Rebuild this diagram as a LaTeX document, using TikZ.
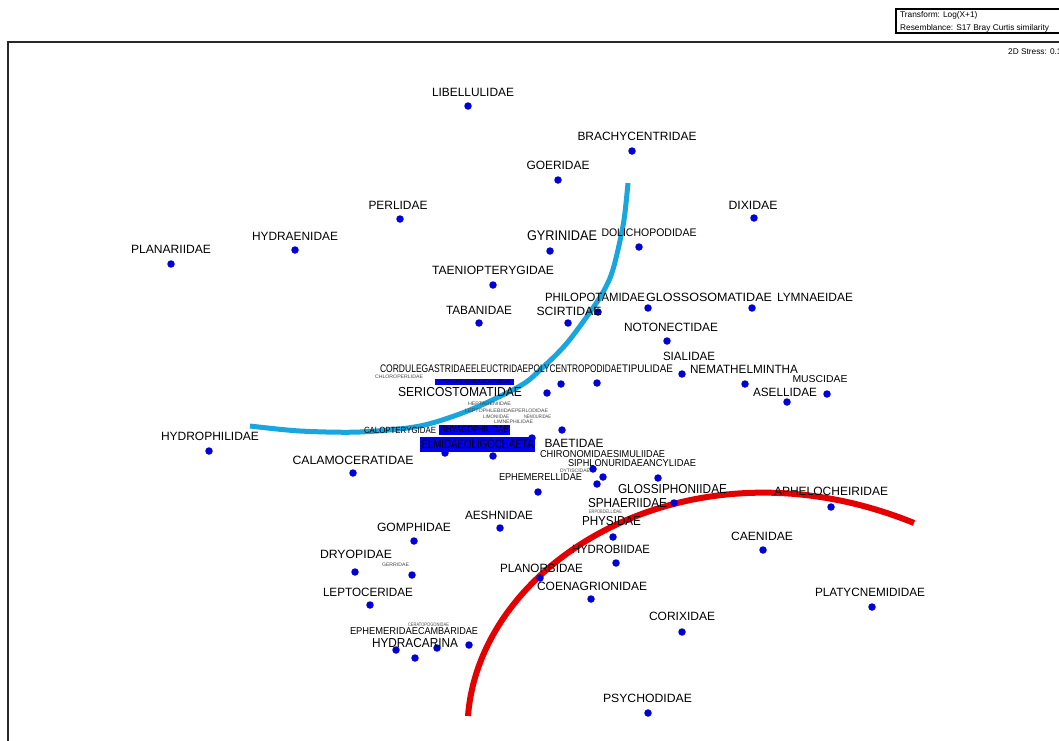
\documentclass[tikz,border=0pt]{standalone}
\usepackage{fontspec}
\setmainfont{Liberation Sans}
\usepackage{graphicx}
\newcommand{\fitw}[2]{\resizebox{#1pt}{\height}{#2}}
\definecolor{dotblue}{RGB}{0,0,215}
\definecolor{arcblue}{RGB}{25,165,222}
\definecolor{arcred}{RGB}{228,0,0}
\definecolor{hlblue}{RGB}{0,0,235}
\definecolor{hltext}{RGB}{0,0,0}
\definecolor{framegray}{RGB}{40,40,40}
\definecolor{tinygray}{RGB}{70,70,70}
\tikzset{
  dot/.style={circle, fill=dotblue, inner sep=0pt, minimum size=7.5pt},
  lab/.style={inner sep=0pt, text=black, font=\fontsize{12}{12}\selectfont},
  labbig/.style={lab, font=\fontsize{13}{13}\selectfont},
  labgy/.style={lab, font=\fontsize{14}{14}\selectfont},
  labmid/.style={lab, font=\fontsize{11}{11}\selectfont},
  labsm/.style={lab, font=\fontsize{10}{10}\selectfont},
  labtiny/.style={lab, text=tinygray, font=\fontsize{5}{5}\selectfont},
  hlbox/.style={fill=hlblue, text=hltext, inner sep=0pt},
  arcline/.style={line width=5pt},
  legtext/.style={inner sep=0pt, anchor=west, font=\fontsize{8.3}{8.3}\selectfont},
}
\begin{document}
\begin{tikzpicture}[x=1pt,y=-1pt]
\useasboundingbox (0,0) rectangle (1059,740);
\fill[white] (0,0) rectangle (1059,740);
% frame
\draw[framegray, line width=2pt] (8,745) -- (8,42) -- (1065,42);
% legend
\draw[black, line width=1.3pt] (896,9) rectangle (1075,33);
\node[legtext] (leg1) at (900,15.5) {Transform: Log(X+1)};
\node[legtext] (leg2) at (900,28) {Resemblance: S17 Bray Curtis similarity};
\node[legtext] (stress) at (1008,52) {2D Stress: 0.16};
% arcs
\draw[arcblue, arcline] plot[smooth] coordinates {(250,426) (300,431) (360,432) (420,426) (470,410) (520,386) (540,370) (567,343) (597,302) (610,278) (617,254) (624,220) (628,183)};
\draw[arcred, line width=6pt] (468,716) .. controls (480,560) and (690,432) .. (914,523);
% dots
\foreach \x/\y/\n in {468/106/a1, 632/151/a2, 558/180/a3, 400/219/a4, 754/218/a5, 295/250/a6, 171/264/a7, 550/251/a8, 639/247/a9, 493/285/a10, 479/323/a11, 568/323/a12, 598/312/a13, 648/308/a14, 752/308/a15, 667/341/a16, 682/374/a17, 745/384/a18, 827/394/a19, 787/402/a20, 561/384/a21, 597/383/a22, 547/393/a23, 562/430/a24, 532/438/a25, 445/453/a26, 493/456/a27, 209/451/a28, 353/473/a29, 593/469/a30, 603/477/a31, 597/484/a32, 658/478/a33, 538/492/a34, 674/503/a35, 613/537/a36, 831/507/a37, 500/528/a38, 414/541/a39, 616/563/a40, 763/550/a41, 355/572/a42, 412/575/a43, 540/578/a44, 591/599/a45, 370/605/a46, 872/607/a47, 682/632/a48, 396/650/a49, 415/658/a50, 437/648/a51, 469/645/a52, 648/713/a53}
  \node[dot] (d\n) at (\x,\y) {};
% highlighted labels
\node[hlbox, minimum width=79pt, minimum height=6pt, font=\fontsize{5}{5}\selectfont] (hyd) at (474.5,382) {\fitw{72}{HYDROPSYCHIDAECAPNIIDAE}};
\node[hlbox, minimum width=71pt, minimum height=10pt, font=\fontsize{9}{9}\selectfont] (rhy) at (474.5,429.5) {\fitw{68}{RHYACOPHILIDAE}};
\node[hlbox, minimum width=115pt, minimum height=15pt, font=\fontsize{12.5}{12.5}\selectfont] (elm) at (477.5,444) {\fitw{112}{ELMIDAEOLIGOCHAETA}};
% labels
\node[lab] (l1) at (473,92) {\fitw{82}{LIBELLULIDAE}};
\node[lab] (l2) at (637,136) {\fitw{119}{BRACHYCENTRIDAE}};
\node[lab] (l3) at (558,165) {\fitw{63}{GOERIDAE}};
\node[lab] (l4) at (398,205) {\fitw{59}{PERLIDAE}};
\node[lab] (l5) at (753,205) {\fitw{49}{DIXIDAE}};
\node[lab] (l6) at (295,236) {\fitw{86}{HYDRAENIDAE}};
\node[lab] (l7) at (171,249) {\fitw{80}{PLANARIIDAE}};
\node[labgy] (l8) at (562,236) {\fitw{70}{GYRINIDAE}};
\node[labmid] (l9) at (649,233) {\fitw{95}{DOLICHOPODIDAE}};
\node[lab] (l10) at (493,270) {\fitw{122}{TAENIOPTERYGIDAE}};
\node[lab] (l11) at (479,310) {\fitw{66}{TABANIDAE}};
\node[lab] (l12) at (569,311) {\fitw{65}{SCIRTIDAE}};
\node[lab] (l13) at (595,297) {\fitw{100}{PHILOPOTAMIDAE}};
\node[lab] (l14) at (709,297) {\fitw{126}{GLOSSOSOMATIDAE}};
\node[lab] (l15) at (815,297) {\fitw{76}{LYMNAEIDAE}};
\node[lab] (l16) at (671,327) {\fitw{94}{NOTONECTIDAE}};
\node[lab] (l17) at (689,356) {\fitw{52}{SIALIDAE}};
\node[lab] (l18) at (744,369) {\fitw{108}{NEMATHELMINTHA}};
\node[labsm] (l19) at (820,379) {\fitw{55}{MUSCIDAE}};
\node[lab] (l20) at (785,392) {\fitw{64}{ASELLIDAE}};
\node[labmid] (l21) at (425.5,369) {\fitw{91}{CORDULEGASTRIDAE}};
\node[labmid] (l22) at (499.5,369) {\fitw{57}{ELEUCTRIDAE}};
\node[labmid] (l23) at (575,369) {\fitw{94}{POLYCENTROPODIDAE}};
\node[labmid] (l24) at (647.5,369) {\fitw{51}{TIPULIDAE}};
\node[labtiny] (l25) at (399,376.5) {\fitw{48}{CHLOROPERLIDAE}};
\node[labbig] (l26) at (460,392) {\fitw{124}{SERICOSTOMATIDAE}};
\node[labtiny] (l27) at (489.5,404) {\fitw{43}{HEPTAGENIIDAE}};
\node[labtiny] (l28) at (490,410.5) {\fitw{50}{LEPTOPHLEBIIDAE}};
\node[labtiny] (l29) at (531.5,410.5) {\fitw{33}{PERLODIDAE}};
\node[labtiny] (l30) at (496,416.5) {\fitw{26}{LIMONIIDAE}};
\node[labtiny] (l31) at (537.5,416.5) {\fitw{27}{NEMOURIDAE}};
\node[labtiny] (l32) at (513.5,422) {\fitw{39}{LIMNEPHILIDAE}};
\node[labsm, font=\fontsize{9}{9}\selectfont] (l33) at (400,430) {\fitw{72}{CALOPTERYGIDAE}};
\node[lab] (l34) at (574,443) {\fitw{59}{BAETIDAE}};
\node[lab] (l35) at (210,436) {\fitw{98}{HYDROPHILIDAE}};
\node[lab] (l36) at (353,460) {\fitw{121}{CALAMOCERATIDAE}};
\node[labsm] (l37) at (576.5,454) {\fitw{73}{CHIRONOMIDAE}};
\node[labsm] (l38) at (639,454) {\fitw{52}{SIMULIIDAE}};
\node[labsm] (l39) at (605.5,463) {\fitw{75}{SIPHLONURIDAE}};
\node[labsm] (l40) at (669.5,463) {\fitw{53}{ANCYLIDAE}};
\node[labtiny] (l41) at (575,471) {\fitw{30}{DYTISCIDAE}};
\node[labsm] (l42) at (540.5,477) {\fitw{83}{EPHEMERELLIDAE}};
\node[labbig] (l43) at (672.5,489) {\fitw{109}{GLOSSIPHONIIDAE}};
\node[labbig] (l44) at (627.5,503) {\fitw{79}{SPHAERIIDAE}};
\node[labtiny] (l45) at (605.5,512) {\fitw{33}{ERPOBDELLIDAE}};
\node[labbig] (l46) at (611.5,521) {\fitw{59}{PHYSIDAE}};
\node[lab] (l47) at (831,491) {\fitw{114}{APHELOCHEIRIDAE}};
\node[lab] (l48) at (499,515) {\fitw{68}{AESHNIDAE}};
\node[lab] (l49) at (414,527) {\fitw{74}{GOMPHIDAE}};
\node[lab] (l50) at (611,549) {\fitw{78}{HYDROBIIDAE}};
\node[lab] (l51) at (762,536) {\fitw{62}{CAENIDAE}};
\node[lab] (l52) at (356,554) {\fitw{72}{DRYOPIDAE}};
\node[labtiny] (l53) at (395.5,565) {\fitw{27}{GERRIDAE}};
\node[lab] (l54) at (541.5,568) {\fitw{83}{PLANORBIDAE}};
\node[lab] (l55) at (592,586) {\fitw{110}{COENAGRIONIDAE}};
\node[lab] (l56) at (368,592) {\fitw{90}{LEPTOCERIDAE}};
\node[lab] (l57) at (870,592) {\fitw{110}{PLATYCNEMIDIDAE}};
\node[lab] (l58) at (682,616) {\fitw{66}{CORIXIDAE}};
\node[labtiny] (l59) at (428.5,625) {\fitw{41}{CERATOPOGONIDAE}};
\node[labsm] (l60) at (384,631.5) {\fitw{68}{EPHEMERIDAE}};
\node[labsm] (l61) at (448,631.5) {\fitw{60}{CAMBARIDAE}};
\node[labbig] (l62) at (415,643) {\fitw{86}{HYDRACARINA}};
\node[lab] (l63) at (647.5,698) {\fitw{89}{PSYCHODIDAE}};
\end{tikzpicture}
\end{document}
